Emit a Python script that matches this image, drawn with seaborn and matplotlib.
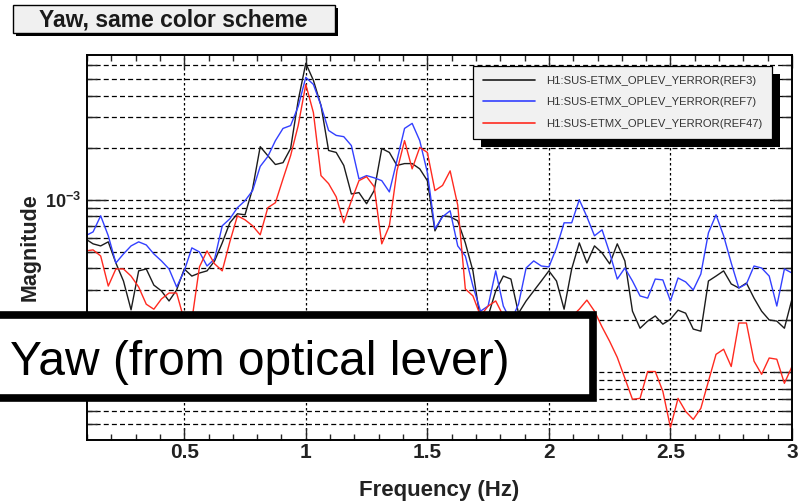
import numpy as np
import pandas as pd
import matplotlib
matplotlib.use("Agg")
import matplotlib.pyplot as plt
import seaborn as sns
from matplotlib.patches import Rectangle
from matplotlib.ticker import (FixedLocator, MultipleLocator, LogLocator,
                               NullFormatter, FuncFormatter)

# ---------------- data ----------------
# FFT bins with 1/32 Hz resolution, 3/32 Hz .. 3 Hz
freq = np.arange(3, 97) / 32.0

# magnitudes in units of 1e-3
ref3 = [0.593, 0.555, 0.540, 0.570, 0.430, 0.338, 0.230, 0.387, 0.397, 0.320,
        0.296, 0.259, 0.300, 0.397, 0.361, 0.376, 0.387, 0.442, 0.562, 0.735,
        0.829, 0.818, 1.16, 2.03, 1.80, 1.60, 1.64, 1.98, 3.76, 6.18,
        4.92, 3.52, 1.93, 1.88, 1.58, 1.08, 1.10, 0.948, 1.13, 1.98,
        1.88, 1.58, 1.62, 1.62, 1.51, 1.29, 0.660, 0.807, 0.797, 0.755,
        0.562, 0.387, 0.198, 0.212, 0.296, 0.361, 0.347, 0.220, 0.259, 0.296,
        0.338, 0.387, 0.338, 0.232, 0.397, 0.562, 0.430, 0.540, 0.492, 0.425,
        0.555, 0.442, 0.226, 0.180, 0.198, 0.212, 0.190, 0.203, 0.229, 0.220,
        0.178, 0.173, 0.338, 0.361, 0.387, 0.325, 0.308, 0.329, 0.269, 0.226,
        0.201, 0.198, 0.180, 0.266]

ref7 = [0.618, 0.651, 0.807, 0.618, 0.430, 0.485, 0.540, 0.570, 0.547, 0.485,
        0.442, 0.397, 0.312, 0.387, 0.526, 0.498, 0.413, 0.454, 0.706, 0.775,
        0.899, 0.987, 1.13, 1.56, 1.78, 2.20, 2.59, 2.69, 3.47, 5.12,
        4.66, 3.52, 2.52, 2.36, 2.32, 2.06, 1.32, 1.38, 1.34, 1.29,
        1.11, 1.69, 2.59, 2.77, 2.20, 1.44, 0.678, 0.797, 0.863, 0.540,
        0.472, 0.316, 0.226, 0.242, 0.387, 0.242, 0.198, 0.248, 0.402, 0.442,
        0.413, 0.408, 0.526, 0.735, 0.735, 1.00, 0.797, 0.618, 0.669, 0.492,
        0.347, 0.402, 0.338, 0.277, 0.269, 0.347, 0.343, 0.259, 0.352, 0.334,
        0.300, 0.371, 0.643, 0.818, 0.618, 0.430, 0.308, 0.325, 0.413, 0.402,
        0.361, 0.242, 0.397, 0.376]

ref47 = [0.505, 0.512, 0.472, 0.316, 0.397, 0.397, 0.361, 0.312, 0.248, 0.232,
         0.266, 0.288, 0.288, 0.200, 0.200, 0.408, 0.505, 0.425, 0.387, 0.570,
         0.807, 0.765, 0.706, 0.626, 0.899, 0.961, 1.32, 1.80, 2.69, 4.66,
         3.20, 1.38, 1.24, 1.04, 0.735, 0.987, 1.29, 1.36, 1.19, 0.555,
         0.706, 1.47, 2.20, 1.51, 2.01, 1.88, 1.13, 1.21, 1.47, 0.930,
         0.304, 0.277, 0.212, 0.242, 0.259, 0.212, 0.190, 0.180, 0.200, 0.190,
         0.210, 0.200, 0.190, 0.200, 0.210, 0.232, 0.262, 0.226, 0.183, 0.151,
         0.122, 0.0923, 0.0697, 0.0706, 0.101, 0.101, 0.0775, 0.0479, 0.0706, 0.0593,
         0.0533, 0.0618, 0.0887, 0.127, 0.136, 0.108, 0.193, 0.193, 0.116, 0.0973,
         0.121, 0.119, 0.0863, 0.108]

labels = ["H1:SUS-ETMX_OPLEV_YERROR(REF3)",
          "H1:SUS-ETMX_OPLEV_YERROR(REF7)",
          "H1:SUS-ETMX_OPLEV_YERROR(REF47)"]
colors = ["#1c1c1c", "#3340ff", "#ff2a20"]

x_ticks = [0.5, 1.0, 1.5, 2.0, 2.5, 3.0]
x_ticklabels = ["0.5", "1", "1.5", "2", "2.5", "3"]
y_labelled_decades = [-3]   # only 10^-3 is visible in the picture

title_text = "Yaw, same color scheme"
overlay_text = "Yaw (from optical lever)"

# ---------------- build frame ----------------
series = [ref3, ref7, ref47]
df = pd.DataFrame({
    "Frequency (Hz)": np.tile(freq, len(series)),
    "Magnitude": np.concatenate([np.asarray(s) for s in series]) * 1e-3,
    "channel": np.repeat(labels, len(freq)),
})

sns.set_style("ticks")
plt.rcParams["font.family"] = ["Liberation Sans", "DejaVu Sans"]
plt.rcParams["mathtext.fontset"] = "custom"
plt.rcParams["mathtext.rm"] = "Liberation Sans"
plt.rcParams["mathtext.bf"] = "Liberation Sans:bold"

W, H = 803, 503
fig = plt.figure(figsize=(W / 100, H / 100), dpi=100)
fig.patch.set_facecolor("white")


def fx(px):
    return px / W


def fy(py):
    return 1 - py / H


ax_l, ax_r, ax_t, ax_b = 87, 792, 55, 440
ax = fig.add_axes([fx(ax_l), fy(ax_b), (ax_r - ax_l) / W, (ax_b - ax_t) / H])

sns.lineplot(data=df, x="Frequency (Hz)", y="Magnitude", hue="channel",
             hue_order=labels, palette=colors, linewidth=1.0,
             estimator=None, ax=ax, legend=False)

ax.set_yscale("log")
ax.set_xlim(0.1, 3.0)
ax.set_ylim(4.05e-5, 6.9e-3)

# x ticks
ax.xaxis.set_major_locator(FixedLocator(x_ticks))
ax.set_xticklabels(x_ticklabels)
ax.xaxis.set_minor_locator(MultipleLocator(0.1))
ax.tick_params(axis="x", which="major", direction="in", top=True, bottom=True,
               length=9, width=1.0, pad=2, labelsize=15)
ax.tick_params(axis="x", which="minor", direction="in", top=True, bottom=True,
               length=4.5, width=1.0)
for t in ax.get_xticklabels():
    t.set_fontweight("bold")
    t.set_color("#222222")


def yfmt(v, p):
    e = int(round(np.log10(v)))
    return r"$\mathbf{10^{%d}}$" % e if e in y_labelled_decades else ""


# y ticks
ax.yaxis.set_major_locator(LogLocator(base=10))
ax.yaxis.set_major_formatter(FuncFormatter(yfmt))
ax.yaxis.set_minor_locator(LogLocator(base=10, subs=np.arange(2, 10)))
ax.yaxis.set_minor_formatter(NullFormatter())
ax.tick_params(axis="y", which="major", direction="in", left=True, right=True,
               length=14, width=1.0, pad=4.5, labelsize=13, labelcolor="#222222")
ax.tick_params(axis="y", which="minor", direction="in", left=True, right=True,
               length=7, width=1.0)

# grid
ax.grid(False)
ax.xaxis.grid(True, which="major", color="black", linestyle=(0, (2, 2)), linewidth=0.9)
ax.yaxis.grid(True, which="both", color="black", linestyle=(0, (4, 2.5)), linewidth=0.9)

for sp in ax.spines.values():
    sp.set_linewidth(1.4)
    sp.set_color("black")

ax.set_xlabel("Frequency (Hz)", fontsize=16, fontweight="bold", color="#222222")
ax.set_ylabel("Magnitude", fontsize=15.5, fontweight="bold", color="#222222")
ax.xaxis.set_label_coords(0.5, -0.105)
ax.yaxis.set_label_coords((41 - ax_l) / (ax_r - ax_l), 0.5)

# legend
handles = [plt.Line2D([], [], color=c, linewidth=1.2) for c in colors]
leg = ax.legend(handles, labels, loc="upper left",
                bbox_to_anchor=(fx(473), fy(66)), bbox_transform=fig.transFigure,
                borderaxespad=0, fontsize=8.1, frameon=True, fancybox=False,
                framealpha=1, facecolor="#f1f1f1", edgecolor="black",
                handlelength=4.7, handletextpad=0.95, labelspacing=1.05,
                borderpad=0.85)
leg.get_frame().set_linewidth(0.9)
for t in leg.get_texts():
    t.set_color("#333333")
leg.set_zorder(6)

fig.canvas.draw()
bb = leg.get_window_extent().transformed(fig.transFigure.inverted())
shadow = Rectangle((bb.x0 + 8 / W, bb.y0 - 8 / H), bb.width, bb.height,
                   transform=fig.transFigure, facecolor="black",
                   edgecolor="none", zorder=5.5)
ax.add_artist(shadow)

# title box with shadow
fig.add_artist(Rectangle((fx(16), fy(36)), (335 - 13) / W, (33 - 5) / H,
                         transform=fig.transFigure, facecolor="black",
                         edgecolor="none", zorder=1))
fig.add_artist(Rectangle((fx(13), fy(33)), (335 - 13) / W, (33 - 5) / H,
                         transform=fig.transFigure, facecolor="#f0f0f0",
                         edgecolor="black", linewidth=1.0, zorder=1.1))
fig.text(fx(173), fy(19.5), title_text, ha="center", va="center",
         fontsize=16.5, fontweight="bold", color="#1a1a1a", zorder=2)

# overlay annotation box
fig.add_artist(Rectangle((fx(-20), fy(398)), (593 + 20) / W, (398 - 314.5) / H,
                         transform=fig.transFigure, facecolor="white",
                         edgecolor="black", linewidth=5.5, zorder=3))
fig.text(fx(10), fy(375), overlay_text, ha="left", va="baseline",
         fontsize=34.5, color="black", zorder=4)

fig.savefig("out.png", dpi=100, facecolor="white")
